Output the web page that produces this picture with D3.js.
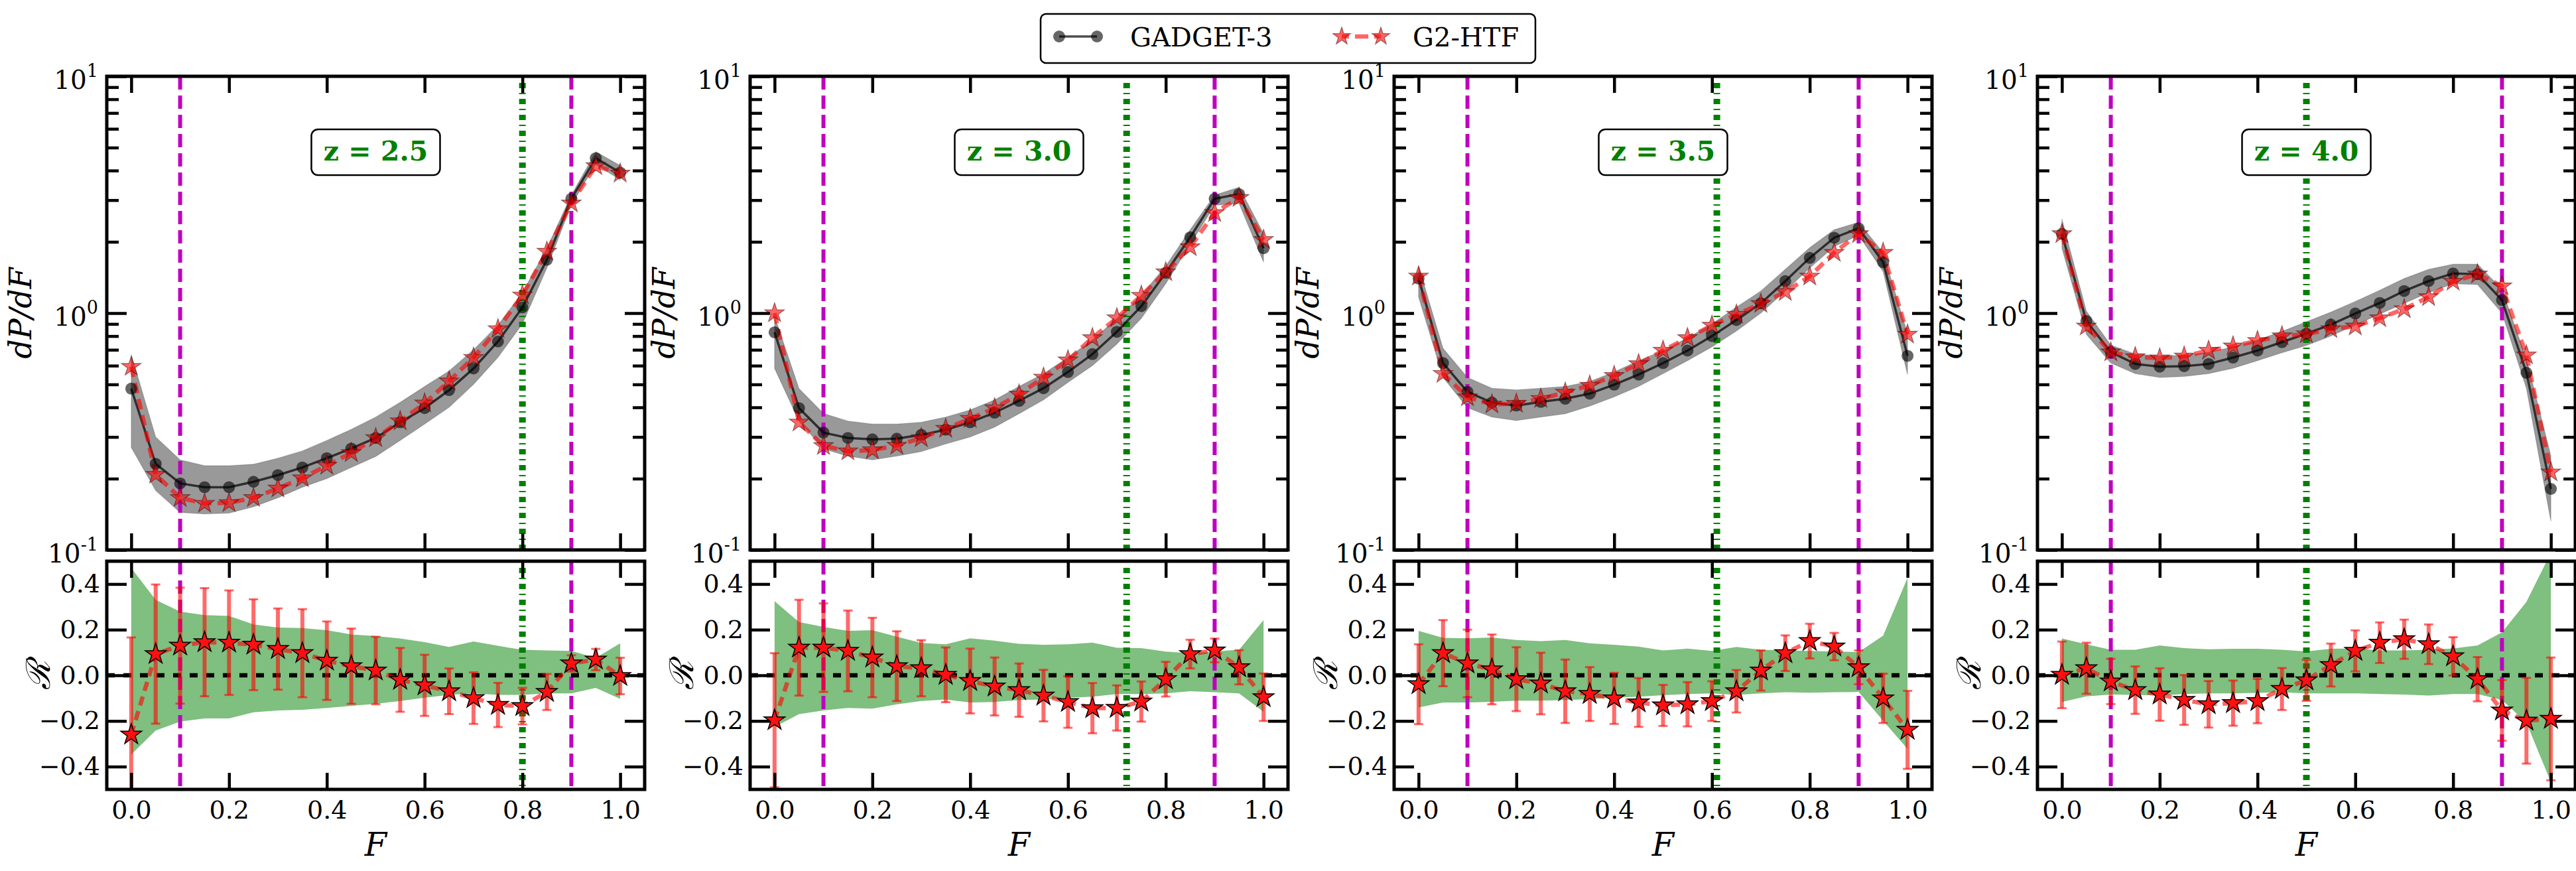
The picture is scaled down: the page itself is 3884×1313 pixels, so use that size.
<!DOCTYPE html>
<html><head><meta charset="utf-8">
<script src="https://cdn.jsdelivr.net/npm/d3@7"></script>
<style>
body{margin:0;background:#fff}
svg{display:block}
text{font-family:'DejaVu Serif',serif}
</style>
</head><body>
<svg id="chart" width="3884" height="1313"></svg>
<script>
// ---------------- DATA ----------------
const F = [0,0.05,0.1,0.15,0.2,0.25,0.3,0.35,0.4,0.45,0.5,0.55,0.6,0.65,0.7,0.75,0.8,0.85,0.9,0.95,1.0];
const xTicks = [0,0.2,0.4,0.6,0.8,1.0];
const logMajorTicks = [0.1,1,10];
const logTickExponents = ['-1','0','1'];
const logMinorTicks = [0.2,0.3,0.4,0.5,0.6,0.7,0.8,0.9,2,3,4,5,6,7,8,9];
const ratioTicks = [-0.4,-0.2,0,0.2,0.4];
const redshiftLabels = ['z = 2.5','z = 3.0','z = 3.5','z = 4.0'];
const greenCutF = [0.8,0.72,0.61,0.5];
const magentaF = [0.1,0.9];
const legendLabels = ['GADGET-3','G2-HTF'];

// z = 2.5
const gadget25 = [0.48,0.231,0.191,0.184,0.184,0.194,0.207,0.223,0.244,0.268,0.297,0.346,0.397,0.473,0.584,0.759,1.057,1.68,3.04,4.51,3.92];
const htf25    = [0.594,0.208,0.166,0.157,0.158,0.166,0.182,0.201,0.227,0.257,0.297,0.35,0.416,0.516,0.649,0.857,1.19,1.82,2.91,4.18,3.89];
const gHi25    = [0.67,0.30,0.24,0.227,0.227,0.23,0.244,0.262,0.29,0.323,0.364,0.42,0.49,0.57,0.70,0.89,1.22,1.88,3.15,4.8,4.2];
const gLo25    = [0.271,0.178,0.144,0.142,0.143,0.152,0.166,0.184,0.20,0.223,0.248,0.29,0.34,0.40,0.50,0.65,0.90,1.55,2.86,4.25,3.65];
const ratio25  = [-0.26,0.093,0.13,0.145,0.143,0.134,0.115,0.097,0.064,0.04,0.021,-0.02,-0.044,-0.07,-0.10,-0.13,-0.135,-0.073,0.052,0.069,-0.003];
const err25    = [0.426,0.305,0.254,0.237,0.229,0.199,0.178,0.193,0.172,0.165,0.148,0.14,0.134,0.10,0.113,0.097,0.08,0.079,0.036,0.047,0.08];
const bandHi25 = [0.47,0.331,0.279,0.264,0.26,0.223,0.209,0.207,0.198,0.179,0.172,0.161,0.145,0.124,0.148,0.129,0.112,0.109,0.107,0.076,0.14];
const bandLo25 = [-0.347,-0.242,-0.203,-0.189,-0.189,-0.162,-0.154,-0.151,-0.143,-0.134,-0.125,-0.113,-0.098,-0.086,-0.079,-0.086,-0.086,-0.079,-0.079,-0.055,-0.103];

// z = 3.0
const gadget30 = [0.83,0.397,0.313,0.297,0.293,0.295,0.306,0.322,0.346,0.38,0.426,0.482,0.564,0.671,0.834,1.07,1.48,2.09,3.04,3.18,1.88];
const htf30    = [1.0,0.346,0.275,0.261,0.264,0.276,0.297,0.325,0.358,0.397,0.454,0.535,0.633,0.786,0.953,1.186,1.49,1.90,2.65,3.07,2.04];
const gHi30    = [0.97,0.48,0.377,0.35,0.34,0.34,0.346,0.364,0.39,0.43,0.49,0.555,0.65,0.77,0.95,1.19,1.58,2.25,3.15,3.4,2.17];
const gLo30    = [0.584,0.35,0.267,0.249,0.24,0.249,0.26,0.28,0.30,0.33,0.376,0.43,0.51,0.60,0.74,0.95,1.33,1.95,2.85,2.9,1.64];
const ratio30  = [-0.197,0.121,0.121,0.107,0.078,0.04,0.031,0.002,-0.025,-0.049,-0.065,-0.089,-0.117,-0.144,-0.143,-0.115,-0.017,0.093,0.109,0.035,-0.096];
const err30    = [0.294,0.21,0.194,0.177,0.174,0.153,0.123,0.12,0.142,0.127,0.117,0.113,0.113,0.11,0.099,0.088,0.076,0.063,0.052,0.075,0.104];
const bandHi30 = [0.325,0.233,0.212,0.195,0.198,0.169,0.142,0.136,0.162,0.152,0.138,0.134,0.136,0.143,0.121,0.119,0.104,0.097,0.105,0.112,0.242];
const bandLo30 = [-0.227,-0.17,-0.154,-0.143,-0.146,-0.127,-0.113,-0.106,-0.119,-0.117,-0.108,-0.106,-0.098,-0.094,-0.082,-0.082,-0.079,-0.07,-0.074,-0.079,-0.16];

// z = 3.5
const gadget35 = [1.40,0.615,0.465,0.419,0.407,0.422,0.435,0.457,0.499,0.55,0.615,0.695,0.80,0.935,1.10,1.365,1.71,2.08,2.28,1.64,0.66];
const htf35    = [1.43,0.555,0.442,0.412,0.415,0.435,0.462,0.495,0.544,0.61,0.695,0.786,0.887,0.986,1.096,1.23,1.43,1.80,2.16,1.80,0.813];
const gHi35    = [1.58,0.71,0.535,0.482,0.474,0.482,0.49,0.515,0.564,0.63,0.695,0.786,0.90,1.06,1.24,1.53,1.89,2.25,2.42,1.80,0.82];
const gLo35    = [1.17,0.535,0.398,0.364,0.352,0.364,0.376,0.405,0.443,0.49,0.555,0.63,0.72,0.84,1.0,1.24,1.55,1.91,2.13,1.50,0.55];
const ratio35  = [-0.039,0.097,0.052,0.026,-0.017,-0.036,-0.07,-0.082,-0.101,-0.119,-0.132,-0.127,-0.113,-0.07,0.021,0.097,0.15,0.126,0.035,-0.101,-0.239];
const err35    = [0.175,0.145,0.148,0.153,0.14,0.135,0.139,0.118,0.112,0.107,0.09,0.097,0.087,0.093,0.088,0.078,0.076,0.06,0.074,0.108,0.171];
const bandHi35 = [0.195,0.164,0.162,0.166,0.155,0.15,0.155,0.14,0.134,0.126,0.109,0.117,0.107,0.124,0.112,0.109,0.107,0.104,0.102,0.174,0.427];
const bandLo35 = [-0.141,-0.119,-0.119,-0.116,-0.111,-0.111,-0.108,-0.105,-0.098,-0.094,-0.087,-0.082,-0.079,-0.086,-0.079,-0.074,-0.076,-0.074,-0.073,-0.199,-0.323];

// z = 4.0
const gadget40 = [2.16,0.926,0.684,0.61,0.594,0.597,0.61,0.649,0.695,0.754,0.819,0.894,0.996,1.104,1.24,1.365,1.47,1.46,1.135,0.56,0.181];
const htf40    = [2.16,0.88,0.684,0.653,0.645,0.657,0.695,0.725,0.764,0.80,0.815,0.857,0.88,0.953,1.04,1.17,1.36,1.46,1.30,0.664,0.213];
const gHi40    = [2.5,1.02,0.733,0.672,0.66,0.664,0.684,0.72,0.77,0.837,0.92,1.01,1.12,1.25,1.40,1.53,1.61,1.61,1.26,0.64,0.25];
const gLo40    = [1.88,0.813,0.615,0.555,0.535,0.54,0.555,0.585,0.63,0.68,0.73,0.80,0.89,0.99,1.10,1.22,1.33,1.32,1.0,0.48,0.132];
const ratio40  = [0.002,0.031,-0.027,-0.065,-0.084,-0.108,-0.127,-0.122,-0.113,-0.06,-0.022,0.045,0.107,0.143,0.158,0.136,0.083,-0.017,-0.154,-0.199,-0.191];
const err40    = [0.146,0.112,0.099,0.104,0.115,0.109,0.102,0.099,0.097,0.092,0.09,0.094,0.09,0.089,0.086,0.087,0.084,0.097,0.133,0.188,0.269];
const bandHi40 = [0.161,0.136,0.112,0.112,0.131,0.119,0.114,0.116,0.116,0.112,0.105,0.116,0.118,0.109,0.109,0.112,0.118,0.131,0.188,0.322,0.537];
const bandLo40 = [-0.117,-0.092,-0.084,-0.086,-0.089,-0.082,-0.079,-0.079,-0.077,-0.074,-0.079,-0.079,-0.079,-0.082,-0.084,-0.089,-0.082,-0.082,-0.108,-0.208,-0.467];

// table built from the named arrays
const panels = [
  {label:redshiftLabels[0], cut:greenCutF[0], g:gadget25, h:htf25, hi:gHi25, lo:gLo25, r:ratio25, e:err25, bh:bandHi25, bl:bandLo25},
  {label:redshiftLabels[1], cut:greenCutF[1], g:gadget30, h:htf30, hi:gHi30, lo:gLo30, r:ratio30, e:err30, bh:bandHi30, bl:bandLo30},
  {label:redshiftLabels[2], cut:greenCutF[2], g:gadget35, h:htf35, hi:gHi35, lo:gLo35, r:ratio35, e:err35, bh:bandHi35, bl:bandLo35},
  {label:redshiftLabels[3], cut:greenCutF[3], g:gadget40, h:htf40, hi:gHi40, lo:gLo40, r:ratio40, e:err40, bh:bandHi40, bl:bandLo40}
];

// ---------------- LAYOUT ----------------
const svg = d3.select('#chart');
const panelLeft = [161,1131,2102,3072];
const PW = 811;
const topY0 = 115, topY1 = 829, botY0 = 846, botY1 = 1190;
const FONT = "'DejaVu Serif', serif";
const MAG = '#bf00bf', GRN = '#008000';

function starPath(R){
  const r = R*0.381966, pts=[];
  for(let k=0;k<10;k++){
    const a = -Math.PI/2 + k*Math.PI/5;
    const rr = k%2===0 ? R : r;
    pts.push([rr*Math.cos(a), rr*Math.sin(a)]);
  }
  return 'M'+pts.map(p=>p[0].toFixed(2)+','+p[1].toFixed(2)).join('L')+'Z';
}

function styleAxis(a){
  a.select('.domain').remove();
  a.selectAll('.tick line').attr('stroke','#000').attr('stroke-width',4.5);
  a.selectAll('.tick text').attr('font-size',38).attr('font-family',FONT).attr('fill','#000');
  return a;
}

panels.forEach((p,i)=>{
  const L = panelLeft[i];
  const x = d3.scaleLinear().domain([-0.05,1.05]).range([L, L+PW]);
  const yT = d3.scaleLog().domain([0.1,10]).range([topY1, topY0]);
  const yB = d3.scaleLinear().domain([-0.5,0.5]).range([botY1, botY0]);

  const defs = svg.append('defs');
  defs.append('clipPath').attr('id','clipT'+i).append('rect')
    .attr('x',L).attr('y',topY0).attr('width',PW).attr('height',topY1-topY0);
  defs.append('clipPath').attr('id','clipB'+i).append('rect')
    .attr('x',L).attr('y',botY0).attr('width',PW).attr('height',botY1-botY0);

  // ---------- top panel ----------
  const gT = svg.append('g').attr('clip-path','url(#clipT'+i+')');
  gT.append('path')
    .attr('d', d3.area().x((d,j)=>x(F[j])).y0((d,j)=>yT(p.lo[j])).y1((d,j)=>yT(p.hi[j]))(F))
    .attr('fill','#000').attr('fill-opacity',0.4)
    .attr('stroke','#000').attr('stroke-opacity',0.15).attr('stroke-width',1.5);
  magentaF.forEach(v=>{
    gT.append('line').attr('x1',x(v)).attr('x2',x(v)).attr('y1',topY0).attr('y2',topY1)
      .attr('stroke',MAG).attr('stroke-width',6).attr('stroke-dasharray','20,9');
  });
  gT.append('line').attr('x1',x(p.cut)).attr('x2',x(p.cut)).attr('y1',topY0+10).attr('y2',topY1)
    .attr('stroke',GRN).attr('stroke-width',10).attr('stroke-dasharray','8,7,2,7');
  gT.append('path')
    .attr('d', d3.line().x((d,j)=>x(F[j])).y(d=>yT(d))(p.g))
    .attr('fill','none').attr('stroke','#000').attr('stroke-opacity',0.7).attr('stroke-width',3.5);
  gT.append('path')
    .attr('d', d3.line().x((d,j)=>x(F[j])).y(d=>yT(d))(p.h))
    .attr('fill','none').attr('stroke','#ff0000').attr('stroke-opacity',0.6).attr('stroke-width',6.5)
    .attr('stroke-dasharray','16,9');
  gT.selectAll('circle.g').data(p.g).enter().append('circle')
    .attr('cx',(d,j)=>x(F[j])).attr('cy',d=>yT(d)).attr('r',9)
    .attr('fill','#000').attr('fill-opacity',0.6);
  gT.selectAll('path.s').data(p.h).enter().append('path')
    .attr('d',starPath(15.5))
    .attr('transform',(d,j)=>`translate(${x(F[j])},${yT(d)})`)
    .attr('fill','#ff0000').attr('fill-opacity',0.6)
    .attr('stroke','#300').attr('stroke-opacity',0.5).attr('stroke-width',1.2);

  // axes top panel
  styleAxis(svg.append('g').attr('transform',`translate(0,${topY0})`)
    .call(d3.axisTop(x).tickValues(xTicks).tickSize(-25).tickFormat('')));
  styleAxis(svg.append('g').attr('transform',`translate(0,${topY1})`)
    .call(d3.axisBottom(x).tickValues(xTicks).tickSize(-25).tickFormat('')));
  styleAxis(svg.append('g').attr('transform',`translate(${L},0)`)
    .call(d3.axisLeft(yT).tickValues(logMajorTicks).tickSize(-30).tickFormat('')));
  styleAxis(svg.append('g').attr('transform',`translate(${L},0)`)
    .call(d3.axisLeft(yT).tickValues(logMinorTicks).tickSize(-18).tickFormat('')));
  styleAxis(svg.append('g').attr('transform',`translate(${L+PW},0)`)
    .call(d3.axisRight(yT).tickValues(logMajorTicks).tickSize(-30).tickFormat('')));
  styleAxis(svg.append('g').attr('transform',`translate(${L+PW},0)`)
    .call(d3.axisRight(yT).tickValues(logMinorTicks).tickSize(-18).tickFormat('')));
  logMajorTicks.forEach((v,k)=>{
    const t = svg.append('text').attr('x',L-13).attr('y',yT(v)+19)
      .attr('text-anchor','end').attr('font-size',39).attr('font-family',FONT);
    t.append('tspan').text('10');
    t.append('tspan').attr('dy',-18).attr('font-size',27).text(logTickExponents[k]);
  });
  svg.append('rect').attr('x',L).attr('y',topY0).attr('width',PW).attr('height',topY1-topY0)
    .attr('fill','none').attr('stroke','#000').attr('stroke-width',5);

  // z label box
  const cx = L + PW/2;
  svg.append('rect').attr('x',cx-97).attr('y',195).attr('width',194).attr('height',69)
    .attr('rx',10).attr('fill','#fff').attr('stroke','#000').attr('stroke-width',2.5);
  svg.append('text').attr('x',cx).attr('y',242).attr('text-anchor','middle')
    .attr('font-size',41).attr('font-weight','bold').attr('fill',GRN).attr('font-family',FONT)
    .text(p.label);

  // y label
  svg.append('text').attr('transform',`translate(${L-114},${(topY0+topY1)/2}) rotate(-90)`)
    .attr('text-anchor','middle').attr('font-size',46).attr('font-style','italic')
    .attr('font-family',FONT).text('dP/dF');

  // ---------- bottom panel ----------
  const gB = svg.append('g').attr('clip-path','url(#clipB'+i+')');
  gB.append('path')
    .attr('d', d3.area().x((d,j)=>x(F[j])).y0((d,j)=>yB(p.bl[j])).y1((d,j)=>yB(p.bh[j]))(F))
    .attr('fill',GRN).attr('fill-opacity',0.5);
  magentaF.forEach(v=>{
    gB.append('line').attr('x1',x(v)).attr('x2',x(v)).attr('y1',botY0).attr('y2',botY1)
      .attr('stroke',MAG).attr('stroke-width',6).attr('stroke-dasharray','20,9');
  });
  gB.append('line').attr('x1',x(p.cut)).attr('x2',x(p.cut)).attr('y1',botY0+10).attr('y2',botY1)
    .attr('stroke',GRN).attr('stroke-width',10).attr('stroke-dasharray','8,7,2,7');
  gB.append('line').attr('x1',L).attr('x2',L+PW).attr('y1',yB(0)).attr('y2',yB(0))
    .attr('stroke','#000').attr('stroke-width',6.5).attr('stroke-dasharray','12,13');
  const eb = gB.selectAll('g.eb').data(p.r).enter().append('g');
  eb.append('line').attr('x1',(d,j)=>x(F[j])).attr('x2',(d,j)=>x(F[j]))
    .attr('y1',(d,j)=>yB(d-p.e[j])).attr('y2',(d,j)=>yB(d+p.e[j]))
    .attr('stroke','#ff0000').attr('stroke-opacity',0.58).attr('stroke-width',6);
  eb.append('line').attr('x1',(d,j)=>x(F[j])-7).attr('x2',(d,j)=>x(F[j])+7)
    .attr('y1',(d,j)=>yB(d+p.e[j])).attr('y2',(d,j)=>yB(d+p.e[j]))
    .attr('stroke','#ff0000').attr('stroke-opacity',0.58).attr('stroke-width',3);
  eb.append('line').attr('x1',(d,j)=>x(F[j])-7).attr('x2',(d,j)=>x(F[j])+7)
    .attr('y1',(d,j)=>yB(d-p.e[j])).attr('y2',(d,j)=>yB(d-p.e[j]))
    .attr('stroke','#ff0000').attr('stroke-opacity',0.58).attr('stroke-width',3);
  gB.append('path')
    .attr('d', d3.line().x((d,j)=>x(F[j])).y(d=>yB(d))(p.r))
    .attr('fill','none').attr('stroke','#ff0000').attr('stroke-opacity',0.6).attr('stroke-width',6.5)
    .attr('stroke-dasharray','14,9');
  gB.selectAll('path.s').data(p.r).enter().append('path')
    .attr('d',starPath(16.5))
    .attr('transform',(d,j)=>`translate(${x(F[j])},${yB(d)})`)
    .attr('fill','#ff1010').attr('stroke','#000').attr('stroke-width',1.5);

  styleAxis(svg.append('g').attr('transform',`translate(0,${botY0})`)
    .call(d3.axisTop(x).tickValues(xTicks).tickSize(-25).tickFormat('')));
  styleAxis(svg.append('g').attr('transform',`translate(0,${botY1})`)
    .call(d3.axisBottom(x).tickValues(xTicks).tickSize(-25).tickPadding(17).tickFormat(d3.format('.1f'))));
  styleAxis(svg.append('g').attr('transform',`translate(${L},0)`)
    .call(d3.axisLeft(yB).tickValues(ratioTicks).tickSize(-30).tickPadding(10).tickFormat(d3.format('.1f'))));
  styleAxis(svg.append('g').attr('transform',`translate(${L+PW},0)`)
    .call(d3.axisRight(yB).tickValues(ratioTicks).tickSize(-30).tickFormat('')));
  svg.append('rect').attr('x',L).attr('y',botY0).attr('width',PW).attr('height',botY1-botY0)
    .attr('fill','none').attr('stroke','#000').attr('stroke-width',5);

  svg.append('text').attr('transform',`translate(${L-86},${yB(0)}) rotate(-90)`)
    .attr('text-anchor','middle').attr('font-size',50).attr('font-style','italic')
    .attr('font-family',"'DejaVu Serif','DejaVu Sans',serif").text('ℛ');
  svg.append('text').attr('x',cx).attr('y',1290).attr('text-anchor','middle')
    .attr('font-size',48).attr('font-style','italic').attr('font-family',FONT).text('F');
});

// ---------------- LEGEND ----------------
const lg = svg.append('g');
lg.append('rect').attr('x',1569).attr('y',21).attr('width',746).attr('height',74).attr('rx',8)
  .attr('fill','#fff').attr('stroke','#000').attr('stroke-width',2.5);
lg.append('line').attr('x1',1597).attr('x2',1654).attr('y1',55).attr('y2',55)
  .attr('stroke','#000').attr('stroke-opacity',0.7).attr('stroke-width',3.5);
[1597,1654].forEach(cxl=>lg.append('circle').attr('cx',cxl).attr('cy',55).attr('r',9)
  .attr('fill','#000').attr('fill-opacity',0.6));
lg.append('text').attr('x',1704).attr('y',70).attr('font-size',40).attr('font-family',FONT).text(legendLabels[0]);
lg.append('line').attr('x1',2023).attr('x2',2082).attr('y1',55).attr('y2',55)
  .attr('stroke','#ff0000').attr('stroke-opacity',0.6).attr('stroke-width',6.5).attr('stroke-dasharray','11,9,20,9');
[2023,2082].forEach(sx=>lg.append('path').attr('d',starPath(14)).attr('transform',`translate(${sx},55)`)
  .attr('fill','#ff0000').attr('fill-opacity',0.6).attr('stroke','#300').attr('stroke-opacity',0.5).attr('stroke-width',1.2));
lg.append('text').attr('x',2130).attr('y',70).attr('font-size',40).attr('font-family',FONT).text(legendLabels[1]);
</script>
</body></html>
